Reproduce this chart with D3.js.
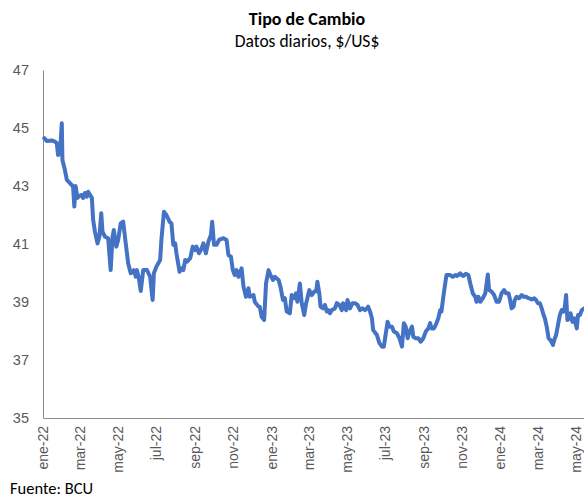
<!DOCTYPE html>
<html>
<head>
<meta charset="utf-8">
<script src="https://cdn.jsdelivr.net/npm/d3@7"></script>
<style>
  body { margin: 0; background: #fff; }
  svg { display: block; font-family: Carlito, Lato, "Open Sans", sans-serif; }
</style>
</head>
<body>
<svg id="chart" width="584" height="501"></svg>
<script>
// tipo de cambio diario, $/US$
const fechas = [
  "2022-01-03","2022-01-07","2022-01-15","2022-01-20","2022-01-23","2022-01-25","2022-01-28","2022-01-31","2022-02-01","2022-02-05",
  "2022-02-08","2022-02-16","2022-02-18","2022-02-20","2022-02-22","2022-02-25","2022-02-28","2022-03-04","2022-03-06","2022-03-09",
  "2022-03-12","2022-03-14","2022-03-20","2022-03-22","2022-03-25","2022-03-29","2022-04-01","2022-04-04","2022-04-06","2022-04-10",
  "2022-04-15","2022-04-19","2022-04-22","2022-04-24","2022-04-28","2022-05-01","2022-05-05","2022-05-09","2022-05-13","2022-05-17",
  "2022-05-21","2022-05-26","2022-05-29","2022-05-31","2022-06-03","2022-06-06","2022-06-10","2022-06-16","2022-06-21","2022-06-25",
  "2022-06-27","2022-07-01","2022-07-07","2022-07-09","2022-07-13","2022-07-17","2022-07-22","2022-07-25","2022-07-28","2022-07-31",
  "2022-08-02","2022-08-07","2022-08-10","2022-08-13","2022-08-16","2022-08-19","2022-08-24","2022-08-28","2022-09-01","2022-09-03",
  "2022-09-07","2022-09-10","2022-09-14","2022-09-18","2022-09-22","2022-09-26","2022-09-28","2022-10-01","2022-10-05","2022-10-09",
  "2022-10-16","2022-10-21","2022-10-24","2022-10-28","2022-10-31","2022-11-03","2022-11-06","2022-11-09","2022-11-14","2022-11-17",
  "2022-11-21","2022-11-25","2022-11-27","2022-12-03","2022-12-05","2022-12-11","2022-12-13","2022-12-16","2022-12-20","2022-12-23",
  "2022-12-27","2022-12-30","2023-01-03","2023-01-06","2023-01-12","2023-01-15","2023-01-19","2023-01-22","2023-01-25","2023-01-30",
  "2023-02-02","2023-02-06","2023-02-09","2023-02-11","2023-02-15","2023-02-18","2023-02-22","2023-02-25","2023-02-27","2023-03-02",
  "2023-03-06","2023-03-10","2023-03-13","2023-03-15","2023-03-18","2023-03-20","2023-03-24","2023-03-27","2023-03-30","2023-04-01",
  "2023-04-04","2023-04-07","2023-04-12","2023-04-15","2023-04-19","2023-04-23","2023-04-25","2023-04-30","2023-05-02","2023-05-06",
  "2023-05-10","2023-05-14","2023-05-18","2023-05-22","2023-05-26","2023-05-30","2023-06-02","2023-06-04","2023-06-07","2023-06-10",
  "2023-06-12","2023-06-18","2023-06-22","2023-06-26","2023-06-29","2023-07-05","2023-07-08","2023-07-12","2023-07-15","2023-07-20",
  "2023-07-24","2023-07-28","2023-07-31","2023-08-03","2023-08-06","2023-08-09","2023-08-13","2023-08-15","2023-08-19","2023-08-23",
  "2023-08-27","2023-08-31","2023-09-04","2023-09-08","2023-09-11","2023-09-13","2023-09-17","2023-09-20","2023-09-24","2023-09-27",
  "2023-09-29","2023-10-02","2023-10-05","2023-10-07","2023-10-13","2023-10-17","2023-10-21","2023-10-24","2023-10-29","2023-10-31",
  "2023-11-03","2023-11-07","2023-11-11","2023-11-14","2023-11-18","2023-11-22","2023-11-24","2023-11-27","2023-11-30","2023-12-04",
  "2023-12-08","2023-12-12","2023-12-14","2023-12-18","2023-12-22","2023-12-26","2023-12-30","2024-01-03","2024-01-07","2024-01-10",
  "2024-01-14","2024-01-16","2024-01-19","2024-01-22","2024-01-24","2024-01-27","2024-01-31","2024-02-04","2024-02-07","2024-02-11",
  "2024-02-15","2024-02-20","2024-02-24","2024-02-27","2024-03-01","2024-03-04","2024-03-07","2024-03-10","2024-03-12","2024-03-15",
  "2024-03-18","2024-03-21","2024-03-25","2024-03-27","2024-03-30","2024-04-03","2024-04-05","2024-04-08","2024-04-11","2024-04-13",
  "2024-04-15","2024-04-17","2024-04-20","2024-04-22","2024-04-25","2024-04-28","2024-05-02","2024-05-04","2024-05-07","2024-05-10",
  "2024-05-14"
];
const valores = [
  44.65,44.55,44.57,44.53,44.48,44.07,44.10,45.16,43.90,43.55,
  43.21,43.03,42.98,42.29,43.00,42.59,42.66,42.69,42.59,42.76,
  42.63,42.80,42.59,41.83,41.42,41.02,41.25,42.06,41.42,41.25,
  41.20,40.10,41.25,41.48,40.91,41.14,41.71,41.77,41.03,40.33,
  39.99,40.10,39.87,40.10,39.82,39.38,40.10,40.10,39.87,39.07,
  39.99,40.22,40.45,41.14,42.11,42.00,41.77,41.71,40.97,41.02,
  40.68,40.04,40.16,40.10,40.45,40.39,40.51,40.91,40.79,40.91,
  40.68,40.79,41.02,40.68,41.08,41.31,41.77,40.97,40.97,41.14,
  41.20,41.14,40.62,40.56,40.10,39.93,40.10,39.87,40.16,39.53,
  39.18,39.47,39.18,39.24,39.01,38.84,38.84,38.49,38.38,39.64,
  40.10,39.93,39.76,39.87,39.76,39.53,39.07,39.13,38.67,38.61,
  39.24,39.13,39.30,39.01,39.64,38.96,38.55,38.96,39.13,39.41,
  39.24,39.36,39.36,39.70,39.30,38.84,38.78,38.90,38.67,38.72,
  38.61,38.72,38.78,38.96,38.90,38.72,38.96,38.72,39.07,38.78,
  38.96,38.96,38.90,38.72,38.78,38.72,38.78,38.84,38.67,38.44,
  38.03,37.86,37.58,37.46,37.46,38.32,38.15,38.15,37.98,37.92,
  37.75,37.46,38.27,38.15,37.75,37.98,38.15,37.80,37.75,37.75,
  37.63,37.75,37.98,38.09,38.27,38.09,38.09,38.21,38.44,38.72,
  38.67,39.18,39.64,39.93,39.93,39.87,39.93,39.90,39.99,39.93,
  39.90,39.97,39.93,39.64,39.30,39.18,39.01,39.18,39.01,39.13,
  39.30,39.95,39.41,39.36,39.24,39.01,39.01,39.30,39.41,39.30,
  39.30,39.13,38.78,38.84,39.07,39.18,39.13,39.24,39.18,39.18,
  39.13,39.09,39.13,39.07,38.96,38.96,38.78,38.55,38.44,38.15,
  37.75,37.69,37.52,37.69,37.86,38.32,38.55,38.72,38.67,38.84,
  39.24,38.38,38.44,38.61,38.32,38.44,38.09,38.55,38.55,38.72,
  38.78
];

const yTicks = [35, 37, 39, 41, 43, 45, 47];
const meses = ["ene","feb","mar","abr","may","jun","jul","ago","sep","oct","nov","dic"];

const svg = d3.select("#chart");
const parse = d3.timeParse("%Y-%m-%d");
const data = fechas.map((f, i) => ({ fecha: parse(f), valor: valores[i] }));

// escalas (eje de fechas: 1 día ≈ 0.6265 px)
const x0 = new Date(2022, 0, 1), x1 = new Date(2024, 4, 31);
const dias = d3.timeDay.count(x0, x1);
const x = d3.scaleTime().domain([x0, x1]).range([43, 43 + dias * 0.6265]);
const y = d3.scaleLinear().domain([35, 47]).range([418, 70]);

const gris = "#595959";

// títulos
svg.append("text").attr("x", 307).attr("y", 25)
  .attr("text-anchor", "middle").attr("font-size", 18).attr("font-weight", "bold").attr("fill", "#000")
  .text("Tipo de Cambio");
svg.append("text").attr("x", 307).attr("y", 47)
  .attr("text-anchor", "middle").attr("font-size", 17.5).attr("fill", "#000")
  .text("Datos diarios, $/US$");

// eje y
const yAxis = svg.append("g").attr("transform", "translate(43,0)")
  .call(d3.axisLeft(y).tickValues(yTicks).tickSize(0).tickPadding(14));
yAxis.select(".domain").attr("stroke", "#8c8c8c");
yAxis.selectAll("text").attr("font-size", 14.5).attr("fill", gris).attr("font-family", null);

// eje x
const xAxis = svg.append("g").attr("transform", "translate(0,418)")
  .call(d3.axisBottom(x)
    .ticks(d3.timeMonth.every(2))
    .tickSize(0)
    .tickFormat(d => meses[d.getMonth()] + "-" + d3.timeFormat("%y")(d)));
xAxis.select(".domain").attr("stroke", "#8c8c8c");
xAxis.selectAll("text")
  .attr("font-size", 14).attr("fill", gris).attr("font-family", null)
  .attr("text-anchor", "end")
  .attr("transform", "rotate(-90)")
  .attr("x", -8).attr("y", 0).attr("dy", "0.32em")
  .attr("dx", 0);

// línea
const line = d3.line().x(d => x(d.fecha)).y(d => y(d.valor));
svg.append("path").datum(data)
  .attr("fill", "none")
  .attr("stroke", "#4472C4")
  .attr("stroke-width", 4)
  .attr("stroke-linejoin", "round")
  .attr("stroke-linecap", "round")
  .attr("d", line);

// fuente
svg.append("text").attr("x", 10).attr("y", 494)
  .attr("font-size", 16.5).attr("fill", "#000")
  .text("Fuente: BCU");
</script>
</body>
</html>
